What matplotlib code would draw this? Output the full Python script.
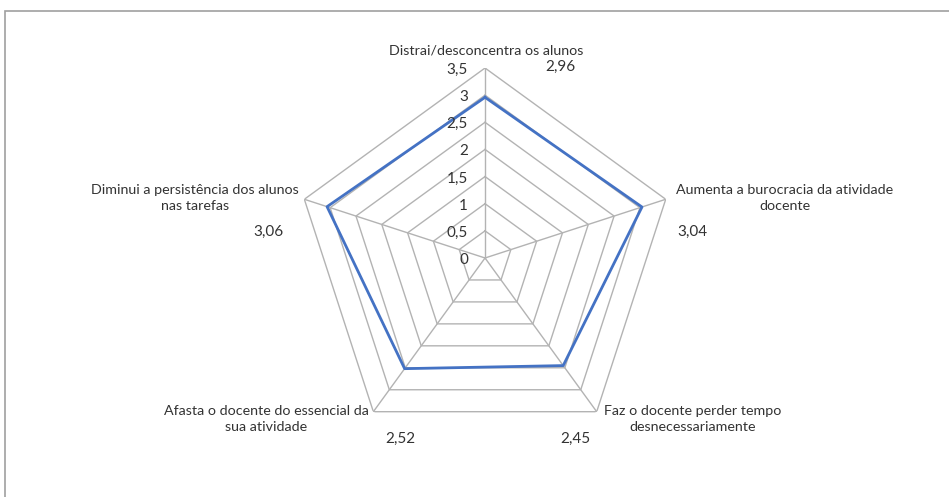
import numpy as np
import matplotlib.pyplot as plt
from matplotlib.patches import Rectangle

plt.rcParams['font.family'] = ['Lato', 'DejaVu Sans']

categories = [
    "Distrai/desconcentra os alunos",
    "Aumenta a burocracia da atividade\ndocente",
    "Faz o docente perder tempo\ndesnecessariamente",
    "Afasta o docente do essencial da\nsua atividade",
    "Diminui a persistência dos alunos\nnas tarefas",
]
values = [2.96, 3.04, 2.45, 2.52, 3.06]
value_labels = ["2,96", "3,04", "2,45", "2,52", "3,06"]
r_ticks = [0, 0.5, 1, 1.5, 2, 2.5, 3, 3.5]
r_tick_labels = ["0", "0,5", "1", "1,5", "2", "2,5", "3", "3,5"]

grid_color = "#b3b3b3"
text_color = "#333333"
line_color = "#4472C4"
fs = 10.3

fig = plt.figure(figsize=(9.49, 4.97), dpi=100)
fig.patches.append(Rectangle((5 / 949, -0.1), 1.1, 1 - 11 / 497 + 0.1,
                             transform=fig.transFigure, fill=False,
                             edgecolor="#a0a0a0", lw=1.2))

ax = fig.add_axes([0.3109, 0.0986, 0.4004, 0.7646], projection='polar')
ax.set_theta_zero_location('N')
ax.set_theta_direction(-1)
ax.set_ylim(0, r_ticks[-1])
ax.grid(False)
ax.spines['polar'].set_visible(False)
ax.set_xticks([])
ax.set_yticks([])
ax.patch.set_visible(False)

n = len(categories)
theta = np.arange(n) * 2 * np.pi / n
th_closed = np.append(theta, theta[0])

for r in r_ticks[1:]:
    ax.plot(th_closed, [r] * (n + 1), color=grid_color, lw=1, zorder=1)
for t in theta:
    ax.plot([t, t], [0, r_ticks[-1]], color=grid_color, lw=1, zorder=1)

ax.plot(th_closed, np.append(values, values[0]), color=line_color, lw=2, zorder=3)

for r, lab in zip(r_ticks, r_tick_labels):
    ax.annotate(lab, xy=(0, r), xytext=(-17, -2), textcoords='offset pixels',
                ha='right', va='center', fontsize=fs + 0.7, color=text_color, zorder=4)

cat_offsets = [(1, 18), (119, 1.5), (96, -7), (-107, -7), (-109, 1.5)]
val_offsets = [(75, 1), (27, -33), (-21, -27), (27, -27), (-36, -33)]
rmax = r_ticks[-1]
for t, cat, vl, co, vo in zip(theta, categories, value_labels, cat_offsets, val_offsets):
    ax.annotate(cat, xy=(t, rmax), xytext=co, textcoords='offset pixels',
                ha='center', va='center', multialignment='center',
                fontsize=fs, color=text_color, linespacing=1.4)
    ax.annotate(vl, xy=(t, rmax), xytext=vo, textcoords='offset pixels',
                ha='center', va='center', fontsize=fs + 0.7, color=text_color)

fig.savefig("out.png", dpi=100)
